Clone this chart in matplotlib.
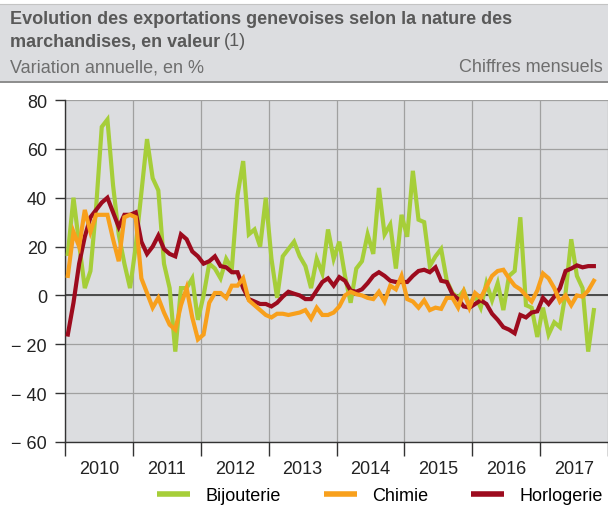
import numpy as np
import pandas as pd
import matplotlib
matplotlib.use("Agg")
import matplotlib.pyplot as plt
from matplotlib.patches import Rectangle
from matplotlib.lines import Line2D

plt.rcParams['font.family'] = ['Liberation Sans', 'DejaVu Sans']

# Variation annuelle en %, chiffres mensuels, janvier 2010 - octobre 2017
bijouterie = [17, 40, 21, 3, 10, 36, 69, 72, 45, 25, 13, 3,
              20, 42, 64, 48, 43, 13, 3, -23, 3, 3, 7, -10,
              0, 13, 11, 7, 15, 11, 41, 55, 25, 27, 20, 40,
              15, -1, 16, 19, 22, 16, 12, 3, 15, 9, 27, 15,
              22, 8, -3, 11, 14, 25, 17, 44, 25, 29, 11, 33,
              24, 51, 31, 30, 12, 16, 19, 6, 1, -1, 2, -4,
              0, -5, 5, -2, 5, -6, 8, 10, 32, -4, -5, -17,
              -5, -16, -11, -13, 1, 23, 8, 3, -23, -6]
chimie = [8, 26, 20, 35, 26, 33, 33, 33, 23, 14, 32, 33,
          32, 7, 1, -5, -1, -7, -12, -14, -4, 3, -9, -18,
          -16, -3, 1, 1, -1, 4, 4, 7, -2, -4, -6, -8,
          -9, -7.5, -7.5, -8, -7.5, -7, -6, -9.5, -5, -8, -8, -7,
          -4.5, 0, 1.5, 0.5, 0, -1, -1.5, 1.5, -2.5, 4, 2.5, 8,
          -1.5, -2.5, -5, -2, -6, -5, -5.5, -1, -1, -5, 1.5, -5,
          1, -1, 3.5, 8, 10, 10.5, 7, 4, 2.5, 0, -2.5, 2,
          9, 7, 3, -2.5, 0, -4, 0, -0.5, 2, 6]
horlogerie = [-16, -3, 13, 24, 32, 35, 38, 40, 34, 28, 33, 33,
              34, 22, 17, 20, 24.5, 19, 17, 16, 25, 23, 18, 16,
              13, 14, 16, 12, 11.5, 9.5, 9.5, 3, -1.5, -2.5, -3.5, -3.5,
              -4.5, -3, -0.5, 1.5, 0.7, 0, -1.5, -1.5, 2, 5.5, 7, 4,
              7.5, 6, 2, 1.5, 2.5, 5, 8, 9.5, 8, 6, 5.5, 5.5,
              5.5, 8, 10, 10.5, 9.5, 11.5, 6, 5.5, 0.5, -1.5, -4.5, -5,
              -3.5, -2, -3.5, -7.5, -10, -13, -14, -15.5, -8, -9, -7, -6.5,
              -1, -3.5, -0.5, 3, 10, 11, 12.3, 11.5, 12, 12]
years = list(range(2010, 2018))
yticks = [-60, -40, -20, 0, 20, 40, 60, 80]

GREEN, ORANGE, RED = '#a6ce39', '#f8a01c', '#9d0b1e'
BG = '#dcdde0'

months = pd.date_range("2010-01-01", periods=len(bijouterie), freq="MS")
x = months.year + (months.month - 0.5) / 12

fig = plt.figure(figsize=(6.08, 5.10), dpi=100)

# header band
fig.patches.append(Rectangle((0, 1 - 83 / 510), 1, 78 / 510, transform=fig.transFigure,
                             fc=BG, ec='none', zorder=0))
fig.add_artist(Line2D([0, 1], [1 - 83 / 510] * 2, color='#8c8c8c', lw=1.4))
fig.add_artist(Line2D([0, 1], [1 - 5 / 510] * 2, color='#c4c4c4', lw=0.8))

t1 = fig.text(10 / 608, 1 - 20 / 510, "Evolution des exportations genevoises selon la nature des",
              fontsize=13, fontweight='bold', color='#595959', va='center')
t2 = fig.text(10 / 608, 1 - 42 / 510, "marchandises, en valeur",
              fontsize=13, fontweight='bold', color='#595959', va='center')
fig.text(10 / 608, 1 - 68 / 510, "Variation annuelle, en %", fontsize=13, color='#6e6e6e', va='center')
fig.text(603 / 608, 1 - 68 / 510, "Chiffres mensuels", fontsize=13, color='#6e6e6e',
         va='center', ha='right')

ax = fig.add_axes([65 / 608, 67 / 510, 1 - 65 / 608, 342 / 510])
ax.set_facecolor(BG)

l1, = ax.plot(x, bijouterie, color=GREEN, lw=3, solid_capstyle='projecting',
              solid_joinstyle='miter', zorder=3)
l3, = ax.plot(x, horlogerie, color=RED, lw=3, solid_capstyle='projecting',
              solid_joinstyle='miter', zorder=4)
l2, = ax.plot(x, chimie, color=ORANGE, lw=3, solid_capstyle='projecting',
              solid_joinstyle='miter', zorder=5)
ax.axhline(0, color='#4a4a4a', lw=1.4, zorder=2)

ax.set_xlim(2010, 2018)
ax.set_ylim(-60, 80)
ax.set_yticks(yticks)
ax.set_yticklabels([str(v) if v >= 0 else "\u2212 " + str(-v) for v in yticks])
ax.set_xticks(years + [2018])
ax.set_xticklabels([])
ax.set_xticks([y + 0.5 for y in years], minor=True)
ax.set_xticklabels([str(y) for y in years], minor=True)
ax.tick_params(axis='x', which='major', length=10, width=1, color='#333333', direction='out')
ax.tick_params(axis='x', which='minor', length=0, pad=13, labelsize=13, labelcolor='#222222')
ax.tick_params(axis='y', length=7, width=1, color='#333333', pad=6, labelsize=13,
               labelcolor='#222222')
ax.grid(True, which='major', color='#a0a0a0', lw=0.9, zorder=1)
ax.set_axisbelow(True)
for side in ['top', 'right']:
    ax.spines[side].set_visible(False)
for side in ['left', 'bottom']:
    ax.spines[side].set_color('#333333')
    ax.spines[side].set_linewidth(1)

leg = fig.legend([l1, l2, l3], ["Bijouterie", "Chimie", "Horlogerie"], loc='center',
                 bbox_to_anchor=(380 / 608, 1 - 497 / 510), ncol=3, frameon=False,
                 fontsize=13, handlelength=1.8, handletextpad=0.85, columnspacing=2.4)
for h in leg.legend_handles:
    h.set_linewidth(4)
    h.set_solid_capstyle('butt')

# "(1)" in normal weight after the bold second title line
fig.canvas.draw()
bb = t2.get_window_extent().transformed(fig.transFigure.inverted())
fig.text(bb.x1 + 4 / 608, 1 - 42 / 510, "(1)", fontsize=13, color='#595959', va='center')

fig.savefig("out.png", dpi=100)
